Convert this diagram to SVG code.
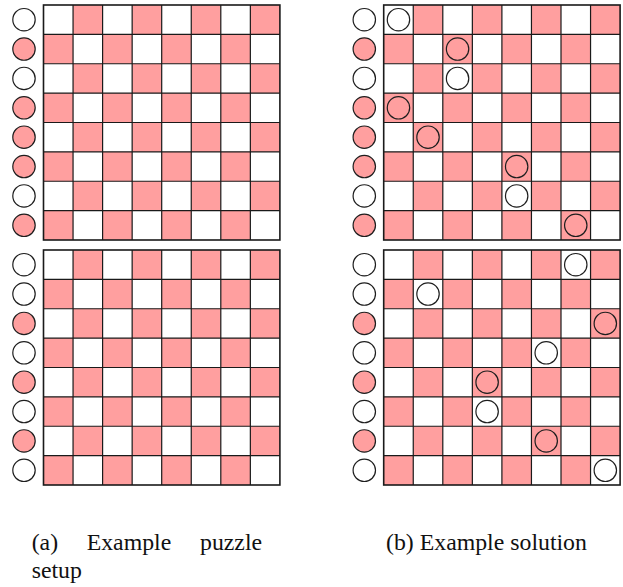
<svg xmlns="http://www.w3.org/2000/svg" xmlns:xlink="http://www.w3.org/1999/xlink" width="623" height="587" viewBox="0 0 623 587">
<style>
.pk{fill:#ff9f9f}
.c{stroke:#1e1e1e;stroke-width:1.2}
.w{fill:#ffffff}
.p{fill:#ff9f9f}
.grid{fill:none;stroke:#1a1a1a;stroke-width:1.2}
.border{fill:none;stroke:#1a1a1a;stroke-width:1.6}
.cap{font-family:"Liberation Serif","Times New Roman",serif;font-size:23.8px;fill:#111}
</style>
<defs>
<g id="rowA">
<rect class="pk" x="29.55" y="0" width="29.55" height="29.375"/>
<rect class="pk" x="88.65" y="0" width="29.55" height="29.375"/>
<rect class="pk" x="147.75" y="0" width="29.55" height="29.375"/>
<rect class="pk" x="206.85" y="0" width="29.55" height="29.375"/>
</g>
<g id="rowB">
<rect class="pk" x="0" y="0" width="29.55" height="29.375"/>
<rect class="pk" x="59.1" y="0" width="29.55" height="29.375"/>
<rect class="pk" x="118.2" y="0" width="29.55" height="29.375"/>
<rect class="pk" x="177.3" y="0" width="29.55" height="29.375"/>
</g>
<g id="board">
<rect x="0" y="0" width="236.4" height="235" fill="#ffffff"/>
<use xlink:href="#rowA" href="#rowA" y="0"/>
<use xlink:href="#rowB" href="#rowB" y="29.375"/>
<use xlink:href="#rowA" href="#rowA" y="58.75"/>
<use xlink:href="#rowB" href="#rowB" y="88.125"/>
<use xlink:href="#rowA" href="#rowA" y="117.5"/>
<use xlink:href="#rowB" href="#rowB" y="146.875"/>
<use xlink:href="#rowA" href="#rowA" y="176.25"/>
<use xlink:href="#rowB" href="#rowB" y="205.625"/>
<path class="grid" d="M29.55 0V235M59.1 0V235M88.65 0V235M118.2 0V235M147.75 0V235M177.3 0V235M206.85 0V235M0 29.375H236.4M0 58.75H236.4M0 88.125H236.4M0 117.5H236.4M0 146.875H236.4M0 176.25H236.4M0 205.625H236.4"/>
<rect class="border" x="0" y="0" width="236.4" height="235"/>
</g>
</defs>

<g id="board-a-top" transform="translate(43.5,5)">
<use xlink:href="#board" href="#board"/>
<circle class="c w" cx="-19.5" cy="14.6875" r="11.2"/>
<circle class="c p" cx="-19.5" cy="44.0625" r="11.2"/>
<circle class="c w" cx="-19.5" cy="73.4375" r="11.2"/>
<circle class="c p" cx="-19.5" cy="102.8125" r="11.2"/>
<circle class="c p" cx="-19.5" cy="132.1875" r="11.2"/>
<circle class="c p" cx="-19.5" cy="161.5625" r="11.2"/>
<circle class="c w" cx="-19.5" cy="190.9375" r="11.2"/>
<circle class="c p" cx="-19.5" cy="220.3125" r="11.2"/>
</g>

<g id="board-a-bottom" transform="translate(43.5,250)">
<use xlink:href="#board" href="#board"/>
<circle class="c w" cx="-19.5" cy="14.6875" r="11.2"/>
<circle class="c w" cx="-19.5" cy="44.0625" r="11.2"/>
<circle class="c p" cx="-19.5" cy="73.4375" r="11.2"/>
<circle class="c w" cx="-19.5" cy="102.8125" r="11.2"/>
<circle class="c p" cx="-19.5" cy="132.1875" r="11.2"/>
<circle class="c w" cx="-19.5" cy="161.5625" r="11.2"/>
<circle class="c p" cx="-19.5" cy="190.9375" r="11.2"/>
<circle class="c w" cx="-19.5" cy="220.3125" r="11.2"/>
</g>

<g id="board-b-top" transform="translate(383.7,5)">
<use xlink:href="#board" href="#board"/>
<circle class="c w" cx="-19.4" cy="14.6875" r="11.2"/>
<circle class="c p" cx="-19.4" cy="44.0625" r="11.2"/>
<circle class="c w" cx="-19.4" cy="73.4375" r="11.2"/>
<circle class="c p" cx="-19.4" cy="102.8125" r="11.2"/>
<circle class="c p" cx="-19.4" cy="132.1875" r="11.2"/>
<circle class="c p" cx="-19.4" cy="161.5625" r="11.2"/>
<circle class="c w" cx="-19.4" cy="190.9375" r="11.2"/>
<circle class="c p" cx="-19.4" cy="220.3125" r="11.2"/>
<circle class="c w" cx="14.775" cy="14.6875" r="11.2"/>
<circle class="c p" cx="73.875" cy="44.0625" r="11.2"/>
<circle class="c w" cx="73.875" cy="73.4375" r="11.2"/>
<circle class="c p" cx="14.775" cy="102.8125" r="11.2"/>
<circle class="c p" cx="44.325" cy="132.1875" r="11.2"/>
<circle class="c p" cx="132.975" cy="161.5625" r="11.2"/>
<circle class="c w" cx="132.975" cy="190.9375" r="11.2"/>
<circle class="c p" cx="192.075" cy="220.3125" r="11.2"/>
</g>

<g id="board-b-bottom" transform="translate(383.7,250)">
<use xlink:href="#board" href="#board"/>
<circle class="c w" cx="-19.4" cy="14.6875" r="11.2"/>
<circle class="c w" cx="-19.4" cy="44.0625" r="11.2"/>
<circle class="c p" cx="-19.4" cy="73.4375" r="11.2"/>
<circle class="c w" cx="-19.4" cy="102.8125" r="11.2"/>
<circle class="c p" cx="-19.4" cy="132.1875" r="11.2"/>
<circle class="c w" cx="-19.4" cy="161.5625" r="11.2"/>
<circle class="c p" cx="-19.4" cy="190.9375" r="11.2"/>
<circle class="c w" cx="-19.4" cy="220.3125" r="11.2"/>
<circle class="c w" cx="192.075" cy="14.6875" r="11.2"/>
<circle class="c w" cx="44.325" cy="44.0625" r="11.2"/>
<circle class="c p" cx="221.625" cy="73.4375" r="11.2"/>
<circle class="c w" cx="162.525" cy="102.8125" r="11.2"/>
<circle class="c p" cx="103.425" cy="132.1875" r="11.2"/>
<circle class="c w" cx="103.425" cy="161.5625" r="11.2"/>
<circle class="c p" cx="162.525" cy="190.9375" r="11.2"/>
<circle class="c w" cx="221.625" cy="220.3125" r="11.2"/>
</g>

<g id="captions">
<text class="cap" y="550"><tspan x="31.7">(a)</tspan><tspan x="86.7">Example</tspan><tspan x="200">puzzle</tspan></text>
<text class="cap" x="31.7" y="578">setup</text>
<text class="cap" x="386" y="550">(b) Example solution</text>
</g>
</svg>
